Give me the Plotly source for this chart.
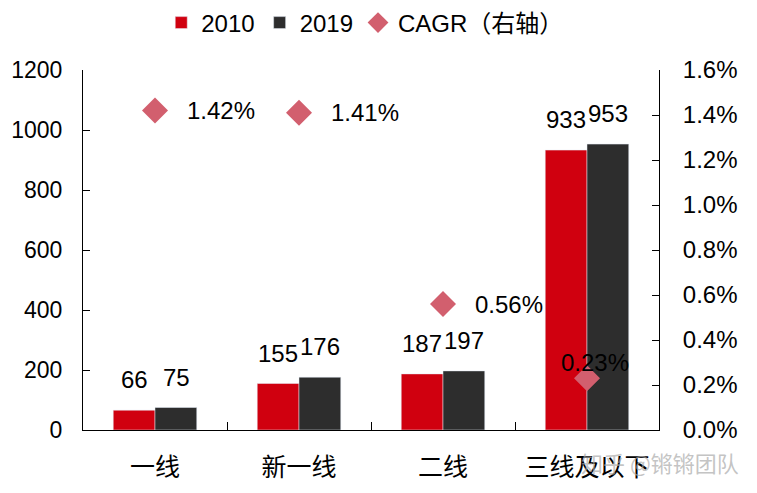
import plotly.graph_objects as go

categories = ["一线", "新一线", "二线", "三线及以下"]
values_2010 = [66, 155, 187, 933]
values_2019 = [75, 176, 197, 953]
cagr = [0.0142, 0.0141, 0.0056, 0.0023]
cagr_labels = ["1.42%", "1.41%", "0.56%", "0.23%"]

FONT = "Liberation Sans, Arial, Noto Sans CJK SC, sans-serif"
CJK = "Noto Sans CJK SC"
RED = "#D0000F"
DARK = "#2D2D2D"
PINK = "#D25F6E"
FS = 24

fig = go.Figure()
fig.add_trace(go.Bar(x=categories, y=values_2010, name="2010", marker_color=RED))
fig.add_trace(go.Bar(x=categories, y=values_2019, name="2019", marker_color=DARK))
fig.add_trace(go.Scatter(
    x=categories, y=cagr, name="CAGR（右轴）", mode="markers", yaxis="y2",
    marker=dict(symbol="diamond", size=20, color=PINK), cliponaxis=False,
))

annotations = []
for vals, sh in ((values_2010, -21), (values_2019, 21)):
    for c, v in zip(categories, vals):
        annotations.append(dict(x=c, y=v, xref="x", yref="y", text=str(v), showarrow=False,
                                xanchor="center", yanchor="bottom", xshift=sh, yshift=15,
                                font=dict(size=FS, color="black", family=FONT)))
for i, (c, v, t) in enumerate(zip(categories, cagr, cagr_labels)):
    if i < 3:
        annotations.append(dict(x=c, y=v, xref="x", yref="y2", text=t, showarrow=False,
                                xanchor="left", yanchor="middle", xshift=30,
                                font=dict(size=FS, color="black", family=FONT)))
    else:
        annotations.append(dict(x=c, y=v, xref="x", yref="y2", text=t, showarrow=False,
                                xanchor="center", yanchor="middle", xshift=8, yshift=16,
                                font=dict(size=FS, color="black", family=FONT)))

annotations.append(dict(x=1.143, y=-0.09, xref="paper", yref="paper", text="知乎 @锵锵团队",
                        showarrow=False, xanchor="right", yanchor="middle",
                        font=dict(size=22, color="rgba(170,170,170,0.7)", family=CJK)))

fig.update_layout(
    width=757, height=493,
    margin=dict(l=75, r=106, t=62, b=71, autoexpand=False),
    plot_bgcolor="white", paper_bgcolor="white",
    barmode="group", bargap=0.42, bargroupgap=0,
    font=dict(family=FONT, size=FS, color="black"),
    showlegend=True,
    legend=dict(orientation="h", x=0.49, xanchor="center", y=1 - 15 / 493, yanchor="middle",
                yref="container", font=dict(size=FS, family=FONT), itemwidth=30,
                tracegroupgap=0),
    xaxis=dict(showline=True, linecolor="black", linewidth=1, ticks="inside",
               tickson="boundaries", ticklen=8, tickcolor="black", automargin=False,
               tickfont=dict(size=25, family=CJK), ticklabelstandoff=15, showgrid=False),
    yaxis=dict(range=[0, 1200], dtick=200, showline=True, linecolor="black", linewidth=1,
               ticks="inside", ticklen=7, tickcolor="black", showgrid=False, zeroline=False,
               automargin=False, tickfont=dict(size=23), ticklabelstandoff=15),
    yaxis2=dict(range=[0, 0.016], dtick=0.002, tickformat=".1%", overlaying="y", side="right",
                showline=True, linecolor="black", linewidth=1, ticks="inside", ticklen=7,
                tickcolor="black", showgrid=False, zeroline=False, automargin=False,
                tickfont=dict(size=FS), ticklabelstandoff=18),
    annotations=annotations,
)

fig.write_html("out.html")
